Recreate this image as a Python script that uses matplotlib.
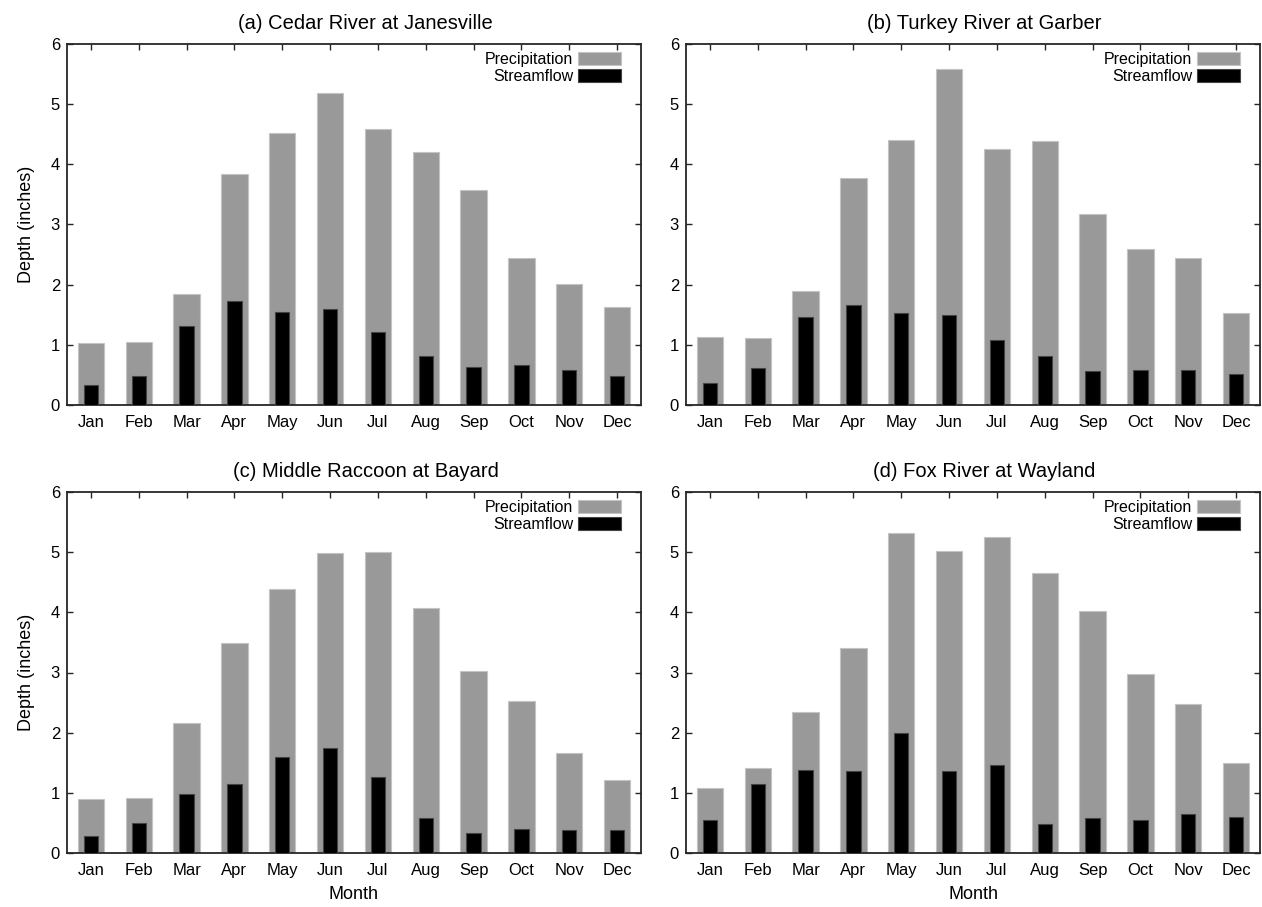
import numpy as np
import matplotlib
matplotlib.use("Agg")
import matplotlib.pyplot as plt

plt.rcParams['font.family'] = ['Liberation Sans', 'DejaVu Sans']

#########
# DATA  #
#########
months = ["Jan", "Feb", "Mar", "Apr", "May", "Jun", "Jul", "Aug", "Sep", "Oct", "Nov", "Dec"]

titles = ["(a) Cedar River at Janesville", "(b) Turkey River at Garber",
          "(c) Middle Raccoon at Bayard", "(d) Fox River at Wayland"]

precip_a = [1.03, 1.05, 1.84, 3.84, 4.52, 5.19, 4.58, 4.20, 3.58, 2.45, 2.01, 1.63]
flow_a = [0.34, 0.48, 1.32, 1.73, 1.54, 1.59, 1.21, 0.82, 0.63, 0.66, 0.59, 0.49]

precip_b = [1.13, 1.12, 1.90, 3.78, 4.40, 5.58, 4.25, 4.38, 3.18, 2.59, 2.45, 1.53]
flow_b = [0.37, 0.61, 1.47, 1.66, 1.53, 1.49, 1.08, 0.82, 0.57, 0.59, 0.59, 0.52]

precip_c = [0.90, 0.92, 2.16, 3.49, 4.39, 4.99, 5.00, 4.07, 3.03, 2.53, 1.67, 1.21]
flow_c = [0.29, 0.50, 0.98, 1.14, 1.59, 1.75, 1.26, 0.59, 0.34, 0.40, 0.38, 0.38]

precip_d = [1.08, 1.42, 2.34, 3.41, 5.32, 5.02, 5.26, 4.66, 4.02, 2.98, 2.47, 1.50]
flow_d = [0.55, 1.15, 1.38, 1.37, 2.00, 1.37, 1.46, 0.49, 0.59, 0.55, 0.64, 0.60]

precip_all = [precip_a, precip_b, precip_c, precip_d]
flow_all = [flow_a, flow_b, flow_c, flow_d]

W, H = 1262, 907
fig = plt.figure(figsize=(W / 100, H / 100), dpi=100)

# axes boxes in pixels: left, top, right, bottom
boxes = [(67, 44, 641, 405), (686, 44, 1260, 405),
         (67, 492, 641, 853), (686, 492, 1260, 853)]

x = np.arange(1, 13)
spine_col = "#262626"

for i, (l, t, r, b) in enumerate(boxes):
    ax = fig.add_axes([l / W, 1 - b / H, (r - l) / W, (b - t) / H])
    ax.bar(x, precip_all[i], width=0.55, color="#999999", edgecolor="#c4c4c4",
           linewidth=0.8, label="Precipitation", zorder=2)
    ax.bar(x, flow_all[i], width=0.3, color="black", edgecolor="#444444",
           linewidth=0.8, label="Streamflow", zorder=3)
    ax.set_xlim(0.5, 12.5)
    ax.set_ylim(0, 6)
    ax.set_xticks(x)
    ax.set_xticklabels(months)
    ax.set_yticks(range(0, 7))
    ax.tick_params(direction="in", length=4, width=1, color=spine_col,
                   top=True, right=True, labelsize=12, pad=7)
    ax.tick_params(axis="y", pad=5)
    for s in ax.spines.values():
        s.set_color(spine_col)
        s.set_linewidth(1.3)
    ax.set_title(titles[i], fontsize=14.5, x=0.52, pad=11)
    if i % 2 == 0:
        ax.set_ylabel("Depth (inches)", fontsize=13, labelpad=11)
    if i >= 2:
        ax.set_xlabel("Month", fontsize=13, labelpad=6)
    ax.legend(loc="upper right", bbox_to_anchor=(0.965, 0.978), frameon=False,
              markerfirst=False, fontsize=11.5, handlelength=2.7, handleheight=0.85,
              handletextpad=0.3, labelspacing=0.15, borderaxespad=0, borderpad=0)

fig.savefig("out.png", dpi=100)
